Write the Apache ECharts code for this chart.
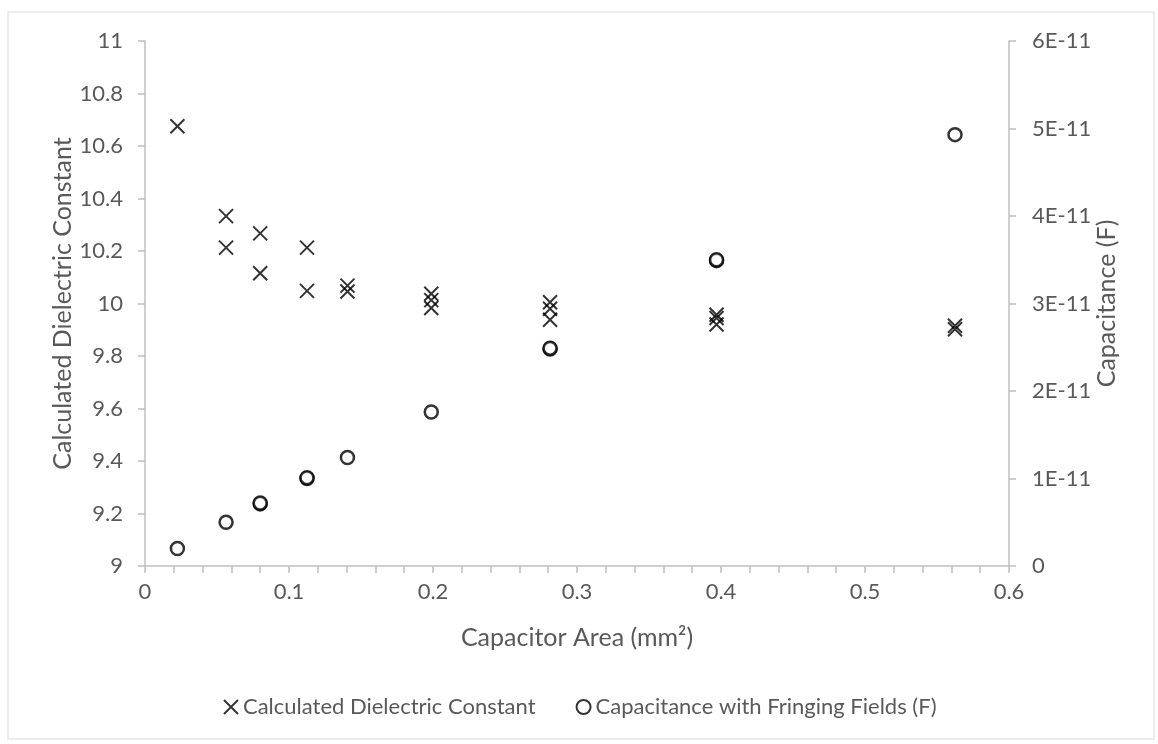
<!DOCTYPE html>
<html>
<head>
<meta charset="utf-8">
<script src="https://cdn.jsdelivr.net/npm/echarts@6/dist/echarts.min.js"></script>
<style>
  html, body { margin: 0; padding: 0; background: #ffffff; }
  #chart { width: 1158px; height: 744px; }
</style>
</head>
<body>
<div id="chart"></div>
<script>
// Capacitor area (mm^2) for each dielectric-constant measurement
const dielectricArea = [
  0.0225,
  0.0563, 0.0563,
  0.0800, 0.0800,
  0.1125, 0.1125,
  0.1406, 0.1406,
  0.1988, 0.1988, 0.1988,
  0.2813, 0.2813, 0.2813,
  0.3969, 0.3969, 0.3969,
  0.5625, 0.5625
];
// Calculated dielectric constant
const dielectricValue = [
  10.675,
  10.333, 10.213,
  10.267, 10.115,
  10.213, 10.048,
  10.068, 10.046,
  10.037, 10.013, 9.983,
  10.005, 9.980, 9.938,
  9.957, 9.945, 9.920,
  9.915, 9.902
];

// Capacitor area (mm^2) for each capacitance measurement
const capArea = [
  0.0225, 0.0563,
  0.0800, 0.0800,
  0.1125, 0.1125,
  0.1406, 0.1988,
  0.2813, 0.2813,
  0.3969, 0.3969,
  0.5625
];
// Capacitance with fringing fields (F)
const capValue = [
  2.0e-12, 5.0e-12,
  7.1e-12, 7.2e-12,
  1.0e-11, 1.01e-11,
  1.24e-11, 1.76e-11,
  2.48e-11, 2.49e-11,
  3.49e-11, 3.50e-11,
  4.93e-11
];

// Tick labels
const xTickLabels = ['0', '0.1', '0.2', '0.3', '0.4', '0.5', '0.6'];
const leftTickLabels = ['9', '9.2', '9.4', '9.6', '9.8', '10', '10.2', '10.4', '10.6', '10.8', '11'];
const rightTickLabels = ['0', '1E-11', '2E-11', '3E-11', '4E-11', '5E-11', '6E-11'];

const FONT = 'Lato, Carlito, "Open Sans", sans-serif';
const TEXT = '#595959';
const AXIS = '#bfbfbf';
const CROSS = 'path://M0,0L10,10M10,0L0,10';

function pick(labels, min, step) {
  return function (v) {
    const i = Math.round((v - min) / step);
    return labels[i] !== undefined ? labels[i] : '';
  };
}

const chart = echarts.init(document.getElementById('chart'), null, { renderer: 'canvas' });

const axisLineStyle = { show: true, lineStyle: { color: AXIS, width: 1.5 } };
const tickStyle = { show: true, length: 7, inside: false, lineStyle: { color: AXIS, width: 1.5 } };

chart.setOption({
  animation: false,
  backgroundColor: '#ffffff',
  textStyle: { fontFamily: FONT },
  graphic: [{
    type: 'rect',
    shape: { x: 8, y: 12, width: 1146, height: 727 },
    style: { fill: 'none', stroke: '#e6e6e6', lineWidth: 1.5 },
    silent: true,
    z: -10
  }],
  grid: { left: 145, right: 149, top: 41, bottom: 178 },
  legend: {
    bottom: 21,
    left: 'center',
    itemGap: 40,
    itemWidth: 14,
    itemHeight: 14,
    textStyle: { color: TEXT, fontSize: 22, fontFamily: FONT },
    data: [
      { name: 'Calculated Dielectric Constant', icon: CROSS },
      { name: 'Capacitance with Fringing Fields (F)', icon: 'circle' }
    ]
  },
  xAxis: {
    type: 'value',
    min: 0, max: 0.6, interval: 0.1,
    name: 'Capacitor Area (mm²)',
    nameLocation: 'middle',
    nameGap: 59,
    nameMoveOverlap: false,
    nameTextStyle: { color: TEXT, fontSize: 25, fontFamily: FONT },
    axisLine: axisLineStyle,
    axisTick: tickStyle,
    minorTick: { show: true, splitNumber: 5, length: 7, lineStyle: { color: AXIS, width: 1.5 } },
    axisLabel: { color: TEXT, fontSize: 22, margin: 15, fontFamily: FONT, formatter: pick(xTickLabels, 0, 0.1) },
    splitLine: { show: false },
    minorSplitLine: { show: false }
  },
  yAxis: [{
    type: 'value',
    position: 'left',
    min: 9, max: 11, interval: 0.2,
    name: 'Calculated Dielectric Constant',
    nameLocation: 'middle',
    nameGap: 70,
    nameMoveOverlap: false,
    nameRotate: 90,
    nameTextStyle: { color: TEXT, fontSize: 25, fontFamily: FONT },
    axisLine: axisLineStyle,
    axisTick: tickStyle,
    axisLabel: { color: TEXT, fontSize: 22, margin: 22, fontFamily: FONT, formatter: pick(leftTickLabels, 9, 0.2) },
    splitLine: { show: false }
  }, {
    type: 'value',
    position: 'right',
    min: 0, max: 6e-11, interval: 1e-11,
    name: 'Capacitance (F)',
    nameLocation: 'middle',
    nameGap: 85,
    nameMoveOverlap: false,
    nameRotate: 90,
    nameTextStyle: { color: TEXT, fontSize: 25, fontFamily: FONT },
    axisLine: axisLineStyle,
    axisTick: tickStyle,
    axisLabel: { color: TEXT, fontSize: 22, margin: 23, fontFamily: FONT, formatter: pick(rightTickLabels, 0, 1e-11) },
    splitLine: { show: false }
  }],
  series: [{
    name: 'Calculated Dielectric Constant',
    type: 'scatter',
    yAxisIndex: 0,
    symbol: CROSS,
    symbolSize: 14,
    itemStyle: { color: 'none', borderColor: '#000000', borderWidth: 2 },
    data: dielectricArea.map((x, i) => [x, dielectricValue[i]])
  }, {
    name: 'Capacitance with Fringing Fields (F)',
    type: 'scatter',
    yAxisIndex: 1,
    symbol: 'circle',
    symbolSize: 13,
    itemStyle: { color: '#ffffff', borderColor: '#000000', borderWidth: 2.5 },
    data: capArea.map((x, i) => [x, capValue[i]])
  }]
});
</script>
</body>
</html>
